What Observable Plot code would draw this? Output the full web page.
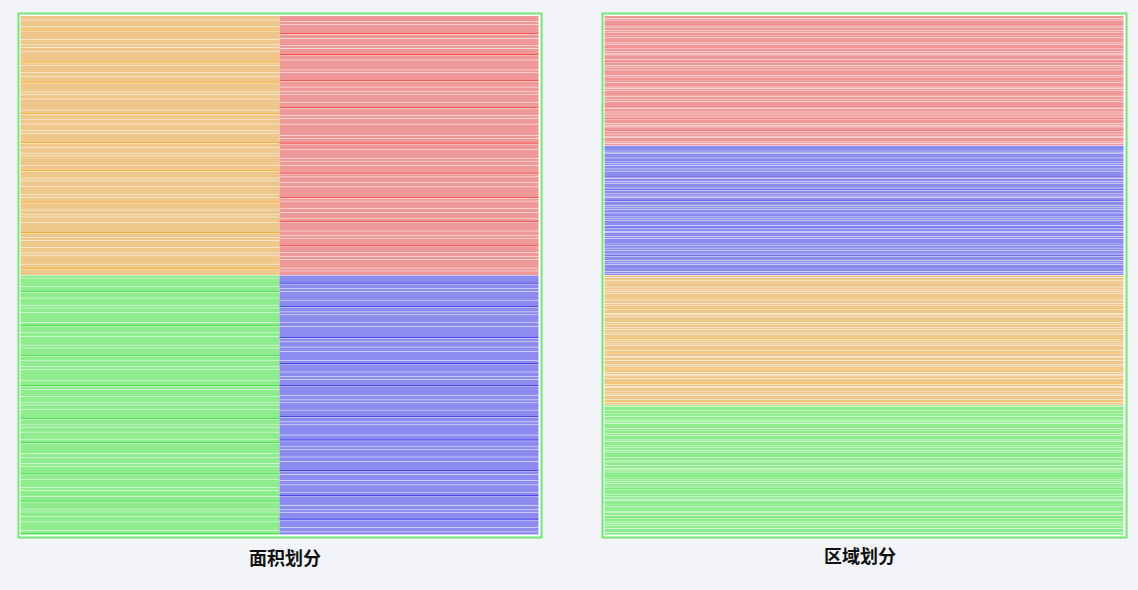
<!DOCTYPE html>
<html><head><meta charset="utf-8">
<script src="https://cdn.jsdelivr.net/npm/d3@7"></script>
<script src="https://cdn.jsdelivr.net/npm/@observablehq/plot@0.6"></script>
<style>
body{margin:0;background:#f3f4f8;width:1138px;height:590px;overflow:hidden;position:relative;font-family:"Noto Sans CJK SC","Noto Sans",sans-serif;}
.p{position:absolute;top:0}
.cap{position:absolute;font-weight:bold;font-size:18px;color:#111;transform:translateX(-50%);white-space:nowrap}
</style></head><body>
<div id="left" class="p" style="left:0"></div>
<div id="right" class="p" style="left:584px"></div>
<div class="cap" style="left:285px;top:544px">面积划分</div>
<div class="cap" style="left:860px;top:542px">区域划分</div>
<script>
const categories = ["orange", "red", "green", "blue"];
const pastel = {orange: "#eec78b", red: "#ef9898", green: "#8eeb8e", blue: "#8c8cf0"};
const strong = {orange: "#f5a31a", red: "#f03a3a", green: "#2ede2e", blue: "#2a2ae6"};
const captions = ["面积划分", "区域划分"];
const orangeItems = [3,5,2,1,6,4,2,3,7,1,2,5,3,4,1,6,2,3,8,2,1,4,3,5,2,6,1,3,4,2,7,3,1,5,2,4,6,2,3,1,5,3,2,4,7,1,3,2,5,4,2,6,3,1,4];
const redItems = [4,2,6,1,3,5,2,4,1,3,7,2,5,1,4,3,2,6,3,1,5,2,4,8,2,3,1,4,6,2,3,5,1,2,4,3,7,1,2,5,3,4,2,1,6,3,2,5,1,4,3,2,6,2,3];
const greenItems = [2,6,3,1,4,5,2,3,7,2,1,4,3,6,2,5,1,3,4,2,8,3,1,2,5,4,2,3,6,1,4,2,3,5,2,1,7,3,4,2,5,1,3,6,2,4,3,1,5,2,3,4,6,2,1];
const blueItems = [5,1,3,2,6,4,1,3,2,5,3,7,1,2,4,3,6,2,1,5,3,2,4,1,6,3,2,5,4,1,3,2,7,3,1,4,2,5,3,6,1,2,4,3,5,2,1,6,3,2,4,1,5,3,2];
const items = {orange: orangeItems, red: redItems, green: greenItems, blue: blueItems};
// left: 2x2 quadrants; right: 4 horizontal bands
const leftCells = {orange: [0,0], red: [1,0], green: [0,1], blue: [1,1]};
const rightBands = {red: 0, blue: 1, orange: 2, green: 3};

function build(cellOf) {
  const rows = [];
  for (const c of categories) {
    const vals = items[c];
    const sum = d3.sum(vals);
    const [qx, qy, w] = cellOf(c);
    let cum = 0;
    for (const v of vals) {
      rows.push({cat: c, x1: qx, x2: qx + w, y1: qy + cum / sum, y2: qy + (cum + v) / sum, dark: v <= 1});
      cum += v;
    }
  }
  return rows;
}
const leftData = build(c => [leftCells[c][0], leftCells[c][1], 1]);
const rightData = build(c => [0, rightBands[c], 1]);

function chart(data, xd, yd, width, height, m) {
  return Plot.plot({
    width, height,
    marginLeft: m[0], marginRight: m[1], marginTop: m[2], marginBottom: m[3],
    style: {background: "transparent"},
    x: {domain: xd, axis: null, insetLeft: 2.5, insetRight: 2.5},
    y: {domain: yd, axis: null, reverse: true, insetTop: 2.5, insetBottom: 2.5},
    marks: [
      Plot.frame({fill: "white"}),
      Plot.rect(data.filter(d => !d.dark), {x1: "x1", x2: "x2", y1: "y1", y2: "y2",
        fill: d => pastel[d.cat], insetTop: 0.5}),
      Plot.rect(data.filter(d => d.dark), {x1: "x1", x2: "x2", y1: "y1", y2: "y2",
        fill: d => strong[d.cat], fillOpacity: 0.85}),
      Plot.frame({stroke: "#44e044", strokeOpacity: 0.75, strokeWidth: 2})
    ]
  });
}
document.getElementById("left").append(chart(leftData, [0, 2], [0, 2], 560, 552, [18, 19, 13, 15]));
document.getElementById("right").append(chart(rightData, [0, 1], [0, 4], 554, 552, [18, 12, 13, 15]));
</script>
</body></html>
